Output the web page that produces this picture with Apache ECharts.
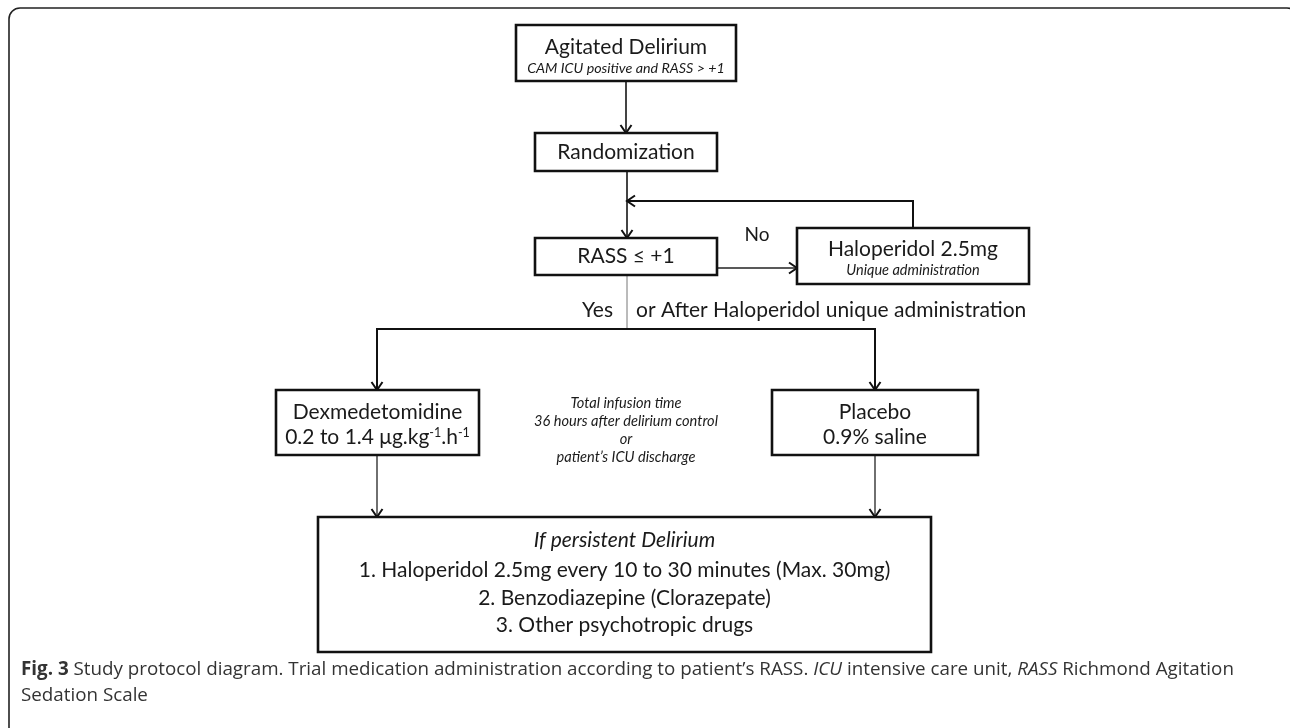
<!DOCTYPE html>
<html><head><meta charset="utf-8">
<script src="https://cdn.jsdelivr.net/npm/echarts@6/dist/echarts.min.js"></script>
<style>html,body{margin:0;padding:0;background:#fff}#c{width:1290px;height:728px}</style>
</head><body><div id="c"></div>
<script>
// ---- content ----
const boxTitles = ['Agitated Delirium', 'Randomization', 'RASS \u2264 +1', 'Haloperidol 2.5mg', 'Dexmedetomidine', 'Placebo', 'If persistent Delirium'];
const boxSubtitles = ['CAM ICU positive and RASS > +1', '', '', 'Unique administration', '0.2 to 1.4 \u03bcg.kg{sup|-1}.h{sup|-1}', '0.9% saline', ''];
const persistItems = ['1. Haloperidol 2.5mg every 10 to 30 minutes (Max. 30mg)', '2. Benzodiazepine (Clorazepate)', '3. Other psychotropic drugs'];
const infusionNote = ['Total infusion time', '36 hours after delirium control', 'or', 'patient\u2019s ICU discharge'];
const branchLabels = ['No', 'Yes', 'or After Haloperidol unique administration'];
const captionLines = ['{b|Fig. 3} Study protocol diagram. Trial medication administration according to patient\u2019s RASS. {i|ICU} intensive care unit, {i|RASS} Richmond Agitation', 'Sedation Scale'];

// ---- layout (diagram geometry, in a 1290 x 728 frame) ----
const FONT = 'Lato, "Liberation Sans", sans-serif';
const CAPFONT = '"Open Sans", Lato, sans-serif';
const CAPSIZE = 18.8;
const boxRects = [[516, 25, 220, 56], [535, 133, 182, 38], [535, 238, 182, 37], [797, 228, 232, 56], [276, 390, 203, 65], [772, 390, 206, 65], [318, 517, 613, 135]];
const boxTitleY = [47, 152, 256, 249, 412, 412, 540];
const boxSubY = [68, 0, 0, 270, 437, 437, 0];
const boxTitleSize = [21, 21, 21, 21, 21, 21, 21];
const boxSubSize = [14.3, 0, 0, 14.5, 21, 21, 0];
const boxSubItalic = [true, false, false, true, false, false, false];
const persistY = [570, 598, 625];
const connectors = [
  {pts: [[626, 81], [626, 133]], arrow: true, w: 2, c: '#444'},
  {pts: [[627, 171], [627, 238]], arrow: true, w: 2, c: '#444'},
  {pts: [[913, 228], [913, 201], [627, 201]], arrow: true, w: 2, c: '#111'},
  {pts: [[717, 268], [797, 268]], arrow: true, w: 1.5, c: '#222'},
  {pts: [[627, 275], [627, 329]], arrow: false, w: 1, c: '#777'},
  {pts: [[627, 329], [377, 329], [377, 390]], arrow: true, w: 2, c: '#111'},
  {pts: [[627, 329], [875, 329], [875, 390]], arrow: true, w: 2, c: '#111'},
  {pts: [[377, 455], [377, 517]], arrow: true, w: 1.3, c: '#222'},
  {pts: [[875, 455], [875, 517]], arrow: true, w: 1.3, c: '#222'}
];
const labelPos = [[757, 235, 'center', 19], [613, 310, 'right', 21], [636, 310, 'left', 21]];
const notePos = [626, 403, 18];
const captionPos = [21, 670, 26];

const chart = echarts.init(document.getElementById('c'), null, {renderer: 'canvas'});

function boxRender(params, api) {
  const i = params.dataIndex;
  const r = boxRects[i];
  const p0 = api.coord([r[0], r[1]]);
  const p1 = api.coord([r[0] + r[2], r[1] + r[3]]);
  const cx = (p0[0] + p1[0]) / 2;
  const children = [{
    type: 'rect', shape: {x: p0[0], y: p0[1], width: p1[0] - p0[0], height: p1[1] - p0[1]},
    style: {fill: '#fff', stroke: '#111', lineWidth: 2.6}
  }];
  const ty = api.coord([0, boxTitleY[i]])[1];
  children.push({type: 'text', style: {
    text: boxTitles[i], x: cx, y: ty, align: 'center', verticalAlign: 'middle',
    fill: '#1a1a1a', fontFamily: FONT, fontSize: boxTitleSize[i], fontStyle: i === 6 ? 'italic' : 'normal'
  }});
  if (boxSubtitles[i]) {
    const sy = api.coord([0, boxSubY[i]])[1];
    children.push({type: 'text', style: {
      text: boxSubtitles[i], x: cx, y: sy, align: 'center', verticalAlign: 'middle',
      fill: '#1a1a1a', fontFamily: FONT, fontSize: boxSubSize[i], fontStyle: boxSubItalic[i] ? 'italic' : 'normal',
      rich: {sup: {fontSize: 12.5, fontFamily: FONT, fill: '#1a1a1a', verticalAlign: 'top', padding: [0, 0, 9, 0]}}
    }});
  }
  if (i === 6) {
    persistItems.forEach((t, k) => {
      const yy = api.coord([0, persistY[k]])[1];
      children.push({type: 'text', style: {
        text: t, x: cx, y: yy, align: 'center', verticalAlign: 'middle',
        fill: '#1a1a1a', fontFamily: FONT, fontSize: 21
      }});
    });
  }
  return {type: 'group', children};
}

function connRender(params, api) {
  const c = connectors[params.dataIndex];
  const pts = c.pts.map(p => api.coord(p));
  const children = [{type: 'polyline', shape: {points: pts}, style: {stroke: c.c, lineWidth: c.w, fill: null}}];
  if (c.arrow) {
    const p = pts[pts.length - 1], q = pts[pts.length - 2];
    let dx = p[0] - q[0], dy = p[1] - q[1];
    const len = Math.hypot(dx, dy); dx /= len; dy /= len;
    const L = 8, W = 5.5;
    children.push({type: 'polyline', shape: {points: [
      [p[0] - dx * L - dy * W, p[1] - dy * L + dx * W], [p[0], p[1]], [p[0] - dx * L + dy * W, p[1] - dy * L - dx * W]
    ]}, style: {stroke: '#111', lineWidth: 2, fill: null}});
  }
  return {type: 'group', children};
}

function textRender(params, api) {
  const children = [];
  labelPos.forEach((lp, k) => {
    const p = api.coord([lp[0], lp[1]]);
    children.push({type: 'text', style: {text: branchLabels[k], x: p[0], y: p[1], align: lp[2], verticalAlign: 'middle',
      fill: '#1a1a1a', fontFamily: FONT, fontSize: lp[3]}});
  });
  infusionNote.forEach((t, k) => {
    const p = api.coord([notePos[0], notePos[1] + k * notePos[2]]);
    children.push({type: 'text', style: {text: t, x: p[0], y: p[1], align: 'center', verticalAlign: 'middle',
      fill: '#1a1a1a', fontFamily: FONT, fontSize: 14.6, fontStyle: 'italic'}});
  });
  captionLines.forEach((t, k) => {
    const p = api.coord([captionPos[0], captionPos[1] + k * captionPos[2]]);
    children.push({type: 'text', style: {text: t, x: p[0], y: p[1], align: 'left', verticalAlign: 'middle',
      fill: '#333', fontFamily: CAPFONT, fontSize: CAPSIZE,
      rich: {b: {fontWeight: 'bold', fontFamily: CAPFONT, fontSize: CAPSIZE, fill: '#333'},
             i: {fontStyle: 'italic', fontFamily: CAPFONT, fontSize: CAPSIZE, fill: '#333'}}}});
  });
  const f0 = api.coord([9, 8]);
  const f1 = api.coord([1298, 740]);
  children.push({type: 'rect', shape: {x: f0[0], y: f0[1], width: f1[0] - f0[0], height: f1[1] - f0[1], r: 11},
    style: {fill: null, stroke: '#222', lineWidth: 1.6}});
  return {type: 'group', children};
}

chart.setOption({
  animation: false,
  grid: {left: 0, right: 0, top: 0, bottom: 0},
  xAxis: {type: 'value', min: 0, max: 1290, show: false},
  yAxis: {type: 'value', min: 0, max: 728, inverse: true, show: false},
  series: [
    {type: 'custom', clip: false, renderItem: connRender, data: connectors.map((c, i) => [i, 0]), silent: true, z: 1},
    {type: 'custom', clip: false, renderItem: boxRender, data: boxTitles.map((t, i) => [i, 0]), silent: true, z: 2},
    {type: 'custom', clip: false, renderItem: textRender, data: [[0, 0]], silent: true, z: 3}
  ]
});
</script></body></html>
